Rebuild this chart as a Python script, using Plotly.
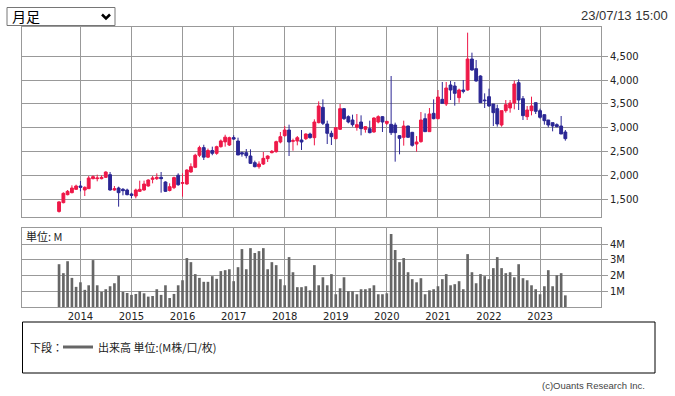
import plotly.graph_objects as go
import pandas as pd

# ---------------- data ----------------
months = pd.date_range("2013-08-01", periods=120, freq="MS")

opens = [1240, 1424, 1592, 1634, 1704,
         1774, 1690, 1718, 1928, 1928, 1928, 1956, 2012, 1690, 1732, 1704, 1690,
         1606, 1564, 1662, 1690, 1774, 1914, 1928, 1956, 1858, 1680, 1740, 2000,
         1830, 1816, 2068, 2166, 2420, 2580, 2380, 2520, 2460, 2600, 2700, 2635,
         2790, 2719, 2474, 2474, 2404, 2264, 2180, 2236, 2348, 2474, 2495, 2698,
         2831, 2950, 2712, 2719, 2740, 2768, 2866, 2789, 3104, 3426, 3076, 2880,
         2768, 2964, 3398, 3230, 3160, 3006, 3118, 2964, 2978, 2908, 3118, 3230,
         3090, 3069, 3055, 2831, 2796, 3034, 2901, 2656, 2705, 3188, 2915, 3300,
         3188, 3594, 3496, 3895, 3874, 3629, 3790, 3790, 4441, 4238, 4084, 3580,
         3650, 3496, 3398, 3055, 3356, 3412, 3517, 3944, 3608, 3230, 3356, 3524,
         3356, 3272, 3160, 3104, 3062, 3034, 2908]
highs = [1455, 1641, 1690, 1788, 1802,
         1879, 1767, 1984, 1998, 2012, 1998, 2082, 2068, 1774, 1760, 1732, 1718,
         1634, 1718, 1886, 1886, 1914, 1984, 2040, 2068, 1872, 1830, 1970, 2040,
         2040, 2124, 2250, 2450, 2620, 2640, 2560, 2600, 2620, 2750, 2850, 2810,
         2840, 2789, 2495, 2551, 2544, 2306, 2292, 2488, 2418, 2530, 2726, 2908,
         3034, 3062, 2768, 2824, 2950, 2880, 2894, 3174, 3552, 3594, 3146, 2936,
         3006, 3496, 3412, 3258, 3272, 3286, 3258, 3034, 3146, 3216, 3258, 3244,
         3139, 4084, 3104, 2845, 3146, 3040, 2910, 2824, 3328, 3300, 3412, 3594,
         3790, 3958, 3958, 3979, 3958, 3818, 4000, 4994, 4574, 4420, 4098, 3720,
         3818, 3496, 3482, 3356, 3580, 3580, 3986, 4014, 3664, 3454, 3650, 3524,
         3398, 3272, 3160, 3104, 3090, 3244, 2950]
lows = [1215, 1410, 1578, 1620, 1690,
        1662, 1564, 1718, 1914, 1872, 1914, 1942, 1676, 1676, 1340, 1578, 1578,
        1522, 1515, 1648, 1676, 1760, 1830, 1900, 1634, 1648, 1660, 1710, 1780,
        1550, 1802, 2054, 2150, 2380, 2320, 2360, 2420, 2430, 2580, 2600, 2614,
        2740, 2425, 2390, 2355, 2236, 2166, 2138, 2215, 2278, 2460, 2474, 2670,
        2810, 2404, 2516, 2628, 2530, 2740, 2768, 2628, 3090, 3055, 2656, 2635,
        2754, 2950, 3160, 3090, 3020, 2936, 2838, 2894, 2880, 2894, 3090, 2908,
        3055, 2845, 2285, 2439, 2621, 2790, 2600, 2495, 2684, 2908, 2908, 3174,
        3174, 3510, 3454, 3580, 3461, 3524, 3720, 3776, 4196, 3965, 3524, 3412,
        3440, 3034, 3020, 3020, 3314, 3314, 3384, 3370, 3160, 3160, 3258, 3286,
        3188, 3062, 3006, 2922, 3006, 2866, 2726]
closes = [1440, 1620, 1662, 1732, 1774,
          1746, 1746, 1942, 1970, 1942, 1956, 2068, 1690, 1718, 1634, 1676, 1592,
          1578, 1690, 1704, 1816, 1900, 1942, 1956, 1928, 1662, 1760, 1950, 1800,
          1844, 2110, 2180, 2420, 2580, 2380, 2520, 2460, 2600, 2720, 2800, 2789,
          2760, 2425, 2446, 2411, 2250, 2180, 2236, 2355, 2404, 2502, 2705, 2810,
          2950, 2698, 2726, 2789, 2698, 2866, 2789, 3118, 3454, 3090, 2880, 2810,
          2999, 3398, 3188, 3118, 3062, 3062, 2978, 3020, 2894, 3202, 3230, 3118,
          3132, 2894, 2894, 2775, 3034, 2796, 2628, 2698, 3160, 2915, 3286, 3188,
          3643, 3510, 3832, 3790, 3720, 3790, 3762, 4441, 4210, 3979, 3524, 3566,
          3454, 3314, 3076, 3356, 3482, 3517, 3916, 3580, 3251, 3370, 3454, 3342,
          3216, 3146, 3055, 3034, 3020, 2866, 2768]
volumes_m = [2.72, 2.15, 2.91, 1.85, 1.28,
             1.57, 1.09, 1.38, 2.98, 1.38, 0.96, 1.13, 1.32, 1.51, 1.98, 0.96, 0.89,
             0.77, 0.83, 1.00, 0.87, 0.66, 0.70, 1.13, 0.77, 1.38, 0.57, 0.83, 1.38,
             1.70, 3.11, 2.85, 2.09, 1.85, 1.60, 1.60, 1.96, 1.79, 2.28, 2.34, 2.40,
             1.64, 2.53, 3.68, 2.40, 3.74, 3.43, 3.55, 3.74, 2.40, 2.85, 2.66, 1.77,
             1.38, 3.17, 2.21, 1.26, 1.26, 1.32, 1.06, 2.66, 1.38, 1.89, 1.38, 2.09,
             0.81, 1.19, 1.89, 1.00, 1.00, 0.81, 1.13, 1.13, 1.19, 1.38, 0.81, 0.81,
             0.87, 4.64, 3.62, 2.85, 3.11, 2.21, 1.77, 1.57, 1.83, 0.81, 1.06, 1.13,
             1.32, 1.77, 2.09, 1.38, 1.45, 1.64, 1.13, 3.36, 2.21, 1.51, 2.09, 1.96,
             1.77, 2.47, 3.17, 2.47, 2.15, 2.21, 1.89, 2.72, 1.83, 1.70, 1.38, 1.13,
             0.81, 1.32, 2.34, 1.32, 2.02, 2.15, 0.74]

year_ticks = ["2014-01-01", "2015-01-01", "2016-01-01", "2017-01-01", "2018-01-01",
              "2019-01-01", "2020-01-01", "2021-01-01", "2022-01-01", "2023-01-01"]
year_labels = ["2014", "2015", "2016", "2017", "2018", "2019", "2020", "2021", "2022", "2023"]
price_ticks = [1500, 2000, 2500, 3000, 3500, 4000, 4500]
vol_ticks = [1, 2, 3, 4]
vol_tick_labels = ["1M", "2M", "3M", "4M"]

# ---------------- style / layout ----------------
RED = "#EE1848"
BLUE = "#2B2794"
GRID = "#999999"
W_FIG, H_FIG = 675, 396
ML, MR, MT, MB = 22, 74, 27, 89
PW = W_FIG - ML - MR
PH = H_FIG - MT - MB


def px(x):
    return (x - ML) / PW


def py(y):
    return (H_FIG - MB - y) / PH


fig = go.Figure()
fig.add_trace(go.Candlestick(
    x=months, open=opens, high=highs, low=lows, close=closes,
    increasing=dict(line=dict(color=RED, width=1), fillcolor=RED),
    decreasing=dict(line=dict(color=BLUE, width=1), fillcolor=BLUE),
    whiskerwidth=0, xaxis="x", yaxis="y", showlegend=False, hoverinfo="skip"))
fig.add_trace(go.Bar(
    x=months, y=volumes_m, width=19 * 86400000,
    marker=dict(color="#666666", line=dict(width=0)),
    xaxis="x2", yaxis="y2", showlegend=False, hoverinfo="skip"))

axis_font = dict(family="DejaVu Sans", size=10, color="#222222")
xr = ["2012-11-09", "2024-03-12"]

fig.update_layout(
    width=W_FIG, height=H_FIG,
    margin=dict(l=ML, r=MR, t=MT, b=MB),
    paper_bgcolor="white", plot_bgcolor="white",
    hovermode=False, showlegend=False,
    boxgap=0.15, boxgroupgap=0.15,
    xaxis=dict(domain=[0, 1], anchor="y", type="date", range=xr,
               tickvals=year_ticks, showticklabels=False, ticks="",
               showgrid=True, gridcolor=GRID, gridwidth=1,
               showline=True, linecolor=GRID, linewidth=1, mirror=True,
               zeroline=False, rangeslider=dict(visible=False)),
    yaxis=dict(domain=[py(217), 1], anchor="x", side="right",
               range=[1123, 5113], tickvals=price_ticks, tickformat=",d",
               ticks="outside", ticklen=6, tickcolor=GRID,
               showgrid=True, gridcolor=GRID, gridwidth=1,
               showline=True, linecolor=GRID, linewidth=1, mirror=True,
               zeroline=False, tickfont=axis_font),
    xaxis2=dict(domain=[0, 1], anchor="y2", type="date", range=xr, matches="x",
                tickvals=year_ticks, ticktext=year_labels, ticks="",
                showgrid=True, gridcolor=GRID, gridwidth=1,
                showline=True, linecolor=GRID, linewidth=1, mirror=True,
                zeroline=False, tickfont=axis_font),
    yaxis2=dict(domain=[0, py(228)], anchor="x2", side="right",
                range=[0, 5.02], tickvals=vol_ticks, ticktext=vol_tick_labels,
                ticks="outside", ticklen=6, tickcolor=GRID,
                showgrid=True, gridcolor=GRID, gridwidth=1,
                showline=True, linecolor=GRID, linewidth=1, mirror=True,
                zeroline=False, tickfont=axis_font),
)

shapes = [
    # dropdown box
    dict(type="rect", xref="paper", yref="paper",
         x0=px(7), x1=px(115), y0=py(25.5), y1=py(7.5),
         line=dict(color="#767676", width=1), fillcolor="white", layer="above"),
    # dropdown chevron
    dict(type="path", xref="paper", yref="paper",
         path=f"M {px(102)},{py(14.5)} L {px(106)},{py(18.5)} L {px(110)},{py(14.5)}",
         line=dict(color="black", width=2.5), layer="above"),
    # legend frame
    dict(type="rect", xref="paper", yref="paper",
         x0=px(22.5), x1=px(655), y0=py(373), y1=py(322),
         line=dict(color="black", width=1), fillcolor="rgba(0,0,0,0)"),
    # legend line sample
    dict(type="line", xref="paper", yref="paper",
         x0=px(63), x1=px(93), y0=py(347), y1=py(347),
         line=dict(color="#666666", width=3)),
]
fig.update_layout(shapes=shapes)

jp = "Noto Sans CJK JP"
annotations = [
    dict(text="月足", x=px(10), y=py(16.5), xanchor="left", yanchor="middle",
         font=dict(family=jp, size=14, color="black")),
    dict(text="23/07/13 15:00", x=px(670), y=py(15.5), xanchor="right", yanchor="middle",
         font=dict(family="Liberation Sans", size=13, color="#333333")),
    dict(text="単位: M", x=px(24), y=py(236), xanchor="left", yanchor="middle",
         font=dict(family=jp, size=11, color="#222222")),
    dict(text="下段：", x=px(28), y=py(347), xanchor="left", yanchor="middle",
         font=dict(family=jp, size=11, color="#222222")),
    dict(text="出来高 単位:(M株/口/枚)", x=px(96), y=py(347), xanchor="left", yanchor="middle",
         font=dict(family=jp, size=11, color="#222222")),
    dict(text="(c)Ouants Research Inc.", x=px(647), y=py(385), xanchor="right", yanchor="middle",
         font=dict(family="Liberation Sans", size=9.5, color="#444444")),
]
for a in annotations:
    a.update(xref="paper", yref="paper", showarrow=False)
fig.update_layout(annotations=annotations)

fig.write_html(
    "out.html",
    config={"displayModeBar": False, "staticPlot": True},
    post_script="document.documentElement.style.margin='0';"
                "document.body.style.margin='0';document.body.style.padding='0';"
                "document.body.style.overflow='hidden';",
)
